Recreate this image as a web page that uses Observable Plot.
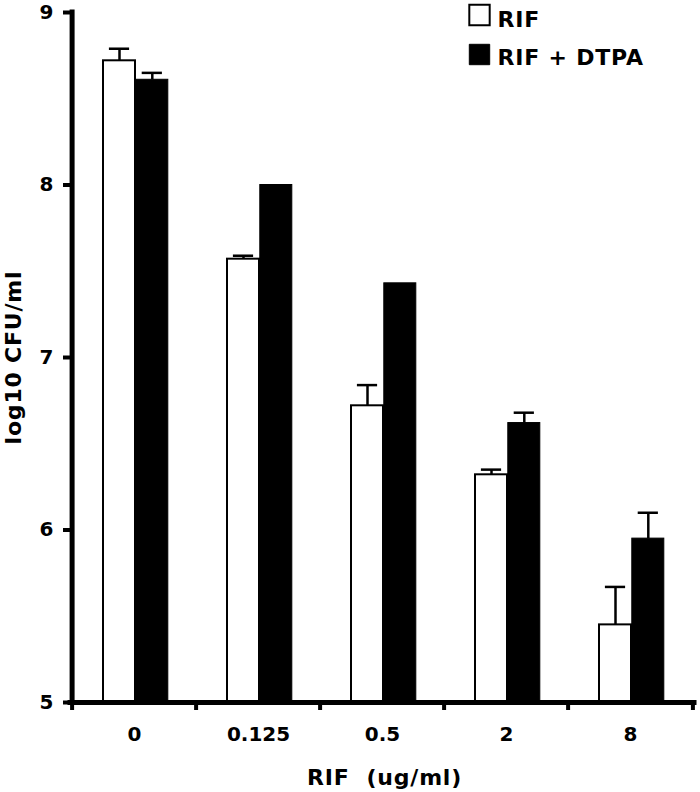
<!DOCTYPE html>
<html>
<head>
<meta charset="utf-8">
<script src="https://cdn.jsdelivr.net/npm/d3@7"></script>
<script src="https://cdn.jsdelivr.net/npm/@observablehq/plot@0.6"></script>
<style>
  body { margin: 0; background: #fff; }
  #chart svg text { white-space: pre; }
  #chart svg g[aria-label="text"] text { letter-spacing: 0.8px; }
</style>
</head>
<body>
<div id="chart"></div>
<script>
// ---- data ----
const doses = ["0", "0.125", "0.5", "2", "8"];
const series = ["RIF", "RIF + DTPA"];
const rifMean = [8.72, 7.57, 6.72, 6.32, 5.45];
const rifErr = [0.07, 0.02, 0.12, 0.03, 0.22];
const dtpaMean = [8.61, 8.00, 7.43, 6.62, 5.95];
const dtpaErr = [0.04, 0, 0, 0.06, 0.15];
const yTicks = [5, 6, 7, 8, 9];
const xTitle = "RIF  (ug/ml)";
const yTitle = "log10 CFU/ml";

// ---- tables built from the arrays ----
const rif = doses.map((d, i) => ({dose: d, value: rifMean[i], hi: rifMean[i] + rifErr[i], err: rifErr[i]}));
const dtpa = doses.map((d, i) => ({dose: d, value: dtpaMean[i], hi: dtpaMean[i] + dtpaErr[i], err: dtpaErr[i]}));

// ---- layout ----
const W = 700, H = 792, ML = 70, MR = 6, MT = 12, MB = 90;
const band = (W - ML - MR) / doses.length;
const barW = 32.8;
const groupStart = 31;
const capHalf = 10.5;
const c1 = groupStart + barW / 2;       // center of white bar in band
const c2 = groupStart + 1.5 * barW;     // center of black bar in band

const font = "'DejaVu Sans', Verdana, sans-serif";

const chart = Plot.plot({
  width: W,
  height: H,
  marginLeft: ML,
  marginRight: MR,
  marginTop: MT,
  marginBottom: MB,
  style: {fontFamily: font, fontWeight: "bold", fontSize: "20px", color: "black", background: "white"},
  x: {type: "band", domain: doses, padding: 0},
  y: {domain: [5, 9]},
  marks: [
    // bars
    Plot.barY(rif, {x: "dose", y1: 5, y2: "value", fill: "white", stroke: "black", strokeWidth: 2,
      insetLeft: groupStart, insetRight: band - groupStart - barW}),
    Plot.barY(dtpa, {x: "dose", y1: 5, y2: "value", fill: "black", stroke: "black", strokeWidth: 1,
      insetLeft: groupStart + barW, insetRight: band - groupStart - 2 * barW}),
    // error bars (upper only)
    Plot.ruleX(rif.filter(d => d.err > 0), {x: "dose", y1: "value", y2: "hi", dx: c1 - band / 2, stroke: "black", strokeWidth: 2.5}),
    Plot.tickY(rif.filter(d => d.err > 0), {x: "dose", y: "hi", stroke: "black", strokeWidth: 2.5,
      insetLeft: c1 - capHalf, insetRight: band - c1 - capHalf}),
    Plot.ruleX(dtpa.filter(d => d.err > 0), {x: "dose", y1: "value", y2: "hi", dx: c2 - band / 2, stroke: "black", strokeWidth: 2.5}),
    Plot.tickY(dtpa.filter(d => d.err > 0), {x: "dose", y: "hi", stroke: "black", strokeWidth: 2.5,
      insetLeft: c2 - capHalf, insetRight: band - c2 - capHalf}),
    // axis lines
    Plot.ruleY([5], {stroke: "black", strokeWidth: 5, strokeLinecap: "square"}),
    Plot.ruleX([doses[0]], {y1: 5, y2: 9, dx: -band / 2, stroke: "black", strokeWidth: 5, strokeLinecap: "square"}),
    // y axis
    Plot.axisY(yTicks, {tickSize: 7, tickPadding: 10, strokeWidth: 4, tickFormat: d3.format("d"), label: null, fontSize: 20, fontWeight: "bold"}),
    // x axis labels (centered) and boundary ticks
    Plot.axisX({tickSize: 0, tickPadding: 24, label: null, fontSize: 20, fontWeight: "bold"}),
    Plot.axisX({tickSize: 8, tickFormat: () => "", dx: -band / 2, strokeWidth: 4, label: null}),
    Plot.axisX([doses[doses.length - 1]], {tickSize: 8, tickFormat: () => "", dx: band / 2, strokeWidth: 4, label: null}),
    // axis titles
    Plot.text([xTitle], {text: d => d, frameAnchor: "bottom", textAnchor: "middle", dx: 2, dy: 75, lineAnchor: "middle", fontSize: 22, fontWeight: "bold", fill: "black"}),
    Plot.text([yTitle], {text: d => d, frameAnchor: "left", textAnchor: "middle", dx: -56.5, rotate: -90, lineAnchor: "middle", fontSize: 22, fontWeight: "bold", fill: "black"}),
    // legend
    Plot.dot([series[0]], {frameAnchor: "top-left", dx: 479 - ML, dy: 14.5 - MT, symbol: "square", r: 11.5, fill: "white", stroke: "black", strokeWidth: 2}),
    Plot.dot([series[1]], {frameAnchor: "top-left", dx: 479 - ML, dy: 54 - MT, symbol: "square", r: 11.5, fill: "black", stroke: "black", strokeWidth: 1}),
    Plot.text([series[0]], {text: d => d, frameAnchor: "top-left", dx: 497 - ML, dy: 19.5 - MT, textAnchor: "start", lineAnchor: "middle", fontSize: 22, fontWeight: "bold", fill: "black"}),
    Plot.text([series[1]], {text: d => d, frameAnchor: "top-left", dx: 497 - ML, dy: 57 - MT, textAnchor: "start", lineAnchor: "middle", fontSize: 22, fontWeight: "bold", fill: "black"})
  ]
});
document.getElementById("chart").appendChild(chart);
</script>
</body>
</html>
